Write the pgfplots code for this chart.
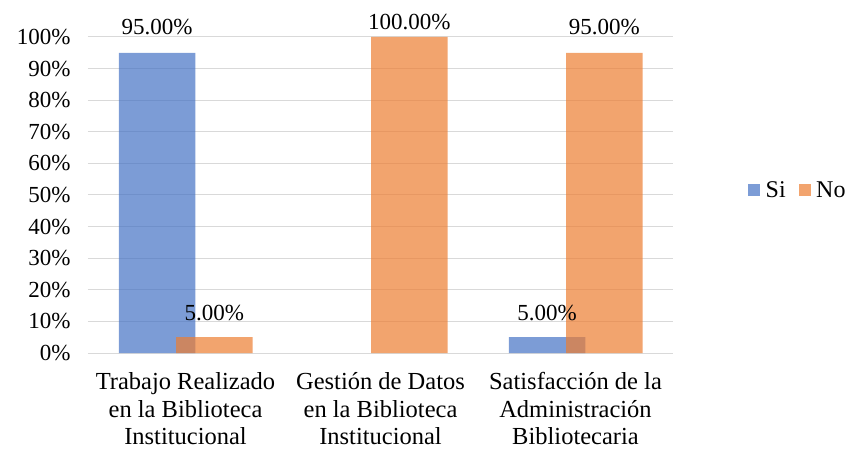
\documentclass[border=0pt]{standalone}
\usepackage{fontspec}
\setmainfont{Liberation Serif}
\usepackage{pgfplots}
\pgfplotsset{compat=1.18}
\usepackage{pgfplotstable}
\definecolor{siblue}{HTML}{4472C4}
\definecolor{noorange}{HTML}{ED7D31}
\definecolor{gridc}{HTML}{D9D9D9}
\definecolor{axisc}{HTML}{BFBFBF}

\pgfplotstableread{
x y sh
0 95 26
2 5 24
}\tsi
\pgfplotstableread{
x y sh
0 5 24
1 100 15
2 95 26
}\tno

\begin{document}
\begin{tikzpicture}
\useasboundingbox (-88pt,-96pt) rectangle (762pt,353pt);
\begin{axis}[
  at={(0pt,0pt)}, anchor=south west,
  scale only axis, width=585pt, height=316pt,
  xmin=-0.5, xmax=2.5, ymin=0, ymax=100,
  axis line style={draw=none},
  major tick length=0pt,
  ytick={0,10,...,100},
  yticklabels={0\%,10\%,20\%,30\%,40\%,50\%,60\%,70\%,80\%,90\%,100\%},
  yticklabel style={font=\fontsize{23}{27}\selectfont, xshift=-14pt},
  ymajorgrids, major grid style={draw=gridc, line width=1pt},
  xtick={0,1,2},
  xticklabels={{Trabajo Realizado\\en la Biblioteca\\Institucional},{Gestión de Datos\\en la Biblioteca\\Institucional},{Satisfacción de la\\Administración\\Bibliotecaria}},
  xticklabel style={align=center, font=\fontsize{24.5}{27.5}\selectfont, yshift=-16pt},
  ybar, bar width=0.392,
  clip=false,
  nodes near coords={\pgfmathprintnumber[fixed,fixed zerofill,precision=2,assume math mode=true]{\pgfplotspointmeta}\%},
  nodes near coords style={anchor=center, yshift=\sh pt, font=\fontsize{23}{27}\selectfont, text=black, opacity=1, fill opacity=1, text opacity=1},
  visualization depends on={\thisrow{sh} \as \sh},
  point meta=y,
  legend style={draw=none, fill=none, at={(1.123,0.516)}, anchor=west, legend columns=2,
    font=\fontsize{24}{27}\selectfont,
    /tikz/every odd column/.append style={column sep=3.5pt},
    /tikz/every even column/.append style={column sep=11pt}},
  legend image code/.code={\fill[#1] (0pt,-6pt) rectangle (12pt,6pt);},
  extra y ticks={0}, extra y tick labels={},
  extra y tick style={grid style={draw=axisc, line width=2.5pt}},
]
\addplot[fill=siblue, fill opacity=0.7, draw=none, bar shift=-0.146] table[x=x,y=y] {\tsi};
\addlegendentry{Si}
\addplot[fill=noorange, fill opacity=0.7, draw=none, bar shift=0.148] table[x=x,y=y] {\tno};
\addlegendentry{No}
\end{axis}
\end{tikzpicture}
\end{document}
